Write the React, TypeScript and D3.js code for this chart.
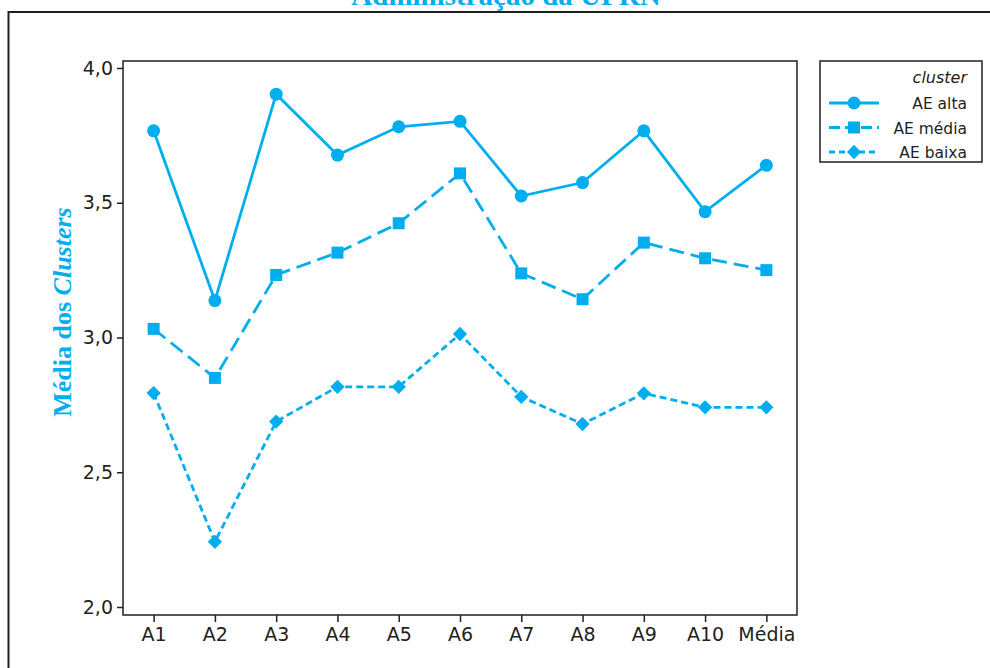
import { useEffect, useRef } from 'react';
import * as d3 from 'd3';

const categories = ['A1', 'A2', 'A3', 'A4', 'A5', 'A6', 'A7', 'A8', 'A9', 'A10', 'Média'];
const aeAlta = [3.767, 3.137, 3.903, 3.677, 3.782, 3.802, 3.525, 3.575, 3.767, 3.467, 3.639];
const aeMedia = [3.032, 2.85, 3.232, 3.315, 3.424, 3.609, 3.238, 3.142, 3.352, 3.294, 3.25];
const aeBaixa = [2.794, 2.242, 2.688, 2.817, 2.817, 3.013, 2.78, 2.679, 2.793, 2.741, 2.741];
const yTicks = [2.0, 2.5, 3.0, 3.5, 4.0];
const seriesNames = ['AE alta', 'AE média', 'AE baixa'];

const BLUE = '#00aeef';
const DARK = '#231f20';
const TICK_FONT = '"DejaVu Sans", sans-serif';

export default function App() {
  const svgRef = useRef<SVGSVGElement>(null);

  useEffect(() => {
    if (!svgRef.current) return;
    const W = 990, H = 668;
    const svg = d3.select(svgRef.current).attr('width', W).attr('height', H);
    svg.selectAll('*').remove();

    const left = 123, right = 797, top = 61, bottom = 615;

    const x = d3.scalePoint<string>().domain(categories).range([left, right]).padding(0.5);
    const y = d3.scaleLinear().domain([2.0, 4.0]).range([607, 68]);

    // 标题（上方被裁切）
    svg.append('text')
      .attr('x', 506).attr('y', 5)
      .attr('text-anchor', 'middle')
      .attr('font-family', '"Liberation Serif", serif')
      .attr('font-weight', 'bold')
      .attr('font-size', 29)
      .attr('fill', BLUE)
      .text('Administração da UFRN');

    // 外框
    svg.append('rect')
      .attr('x', 8.5).attr('y', 12)
      .attr('width', 1100).attr('height', 800)
      .attr('fill', 'none').attr('stroke', DARK).attr('stroke-width', 2);

    // 绘图区
    svg.append('rect')
      .attr('x', left).attr('y', top)
      .attr('width', right - left).attr('height', bottom - top)
      .attr('fill', 'none').attr('stroke', DARK).attr('stroke-width', 1.5);

    // Y 轴
    const yAxis = svg.append('g')
      .attr('transform', `translate(${left},0)`)
      .call(d3.axisLeft(y).tickValues(yTicks).tickSize(6).tickPadding(4)
        .tickFormat(d => (d as number).toFixed(1).replace('.', ',')));
    yAxis.select('.domain').remove();
    yAxis.selectAll('line').attr('stroke', DARK).attr('stroke-width', 1.5);
    yAxis.selectAll('text')
      .attr('font-family', TICK_FONT).attr('font-size', 19).attr('fill', DARK);

    // X 轴
    const xAxis = svg.append('g')
      .attr('transform', `translate(0,${bottom})`)
      .call(d3.axisBottom(x).tickSize(7).tickPadding(6));
    xAxis.select('.domain').remove();
    xAxis.selectAll('line').attr('stroke', DARK).attr('stroke-width', 1.5);
    xAxis.selectAll('text')
      .attr('font-family', TICK_FONT).attr('font-size', 19).attr('fill', DARK);

    // Y 轴标题
    const yt = svg.append('text')
      .attr('transform', 'translate(71,312) rotate(-90)')
      .attr('text-anchor', 'middle')
      .attr('font-family', '"Liberation Serif", serif')
      .attr('font-weight', 'bold')
      .attr('font-size', 26)
      .attr('fill', BLUE);
    yt.append('tspan').text('Média dos ');
    yt.append('tspan').attr('font-style', 'italic').text('Clusters');

    const dashes = [null, '15,7', '7,4'];
    const allSeries = [aeAlta, aeMedia, aeBaixa];

    const drawMarker = (gg: d3.Selection<SVGGElement, unknown, null, undefined>, kind: number, cx: number, cy: number) => {
      if (kind === 0) {
        gg.append('circle').attr('cx', cx).attr('cy', cy).attr('r', 6.5).attr('fill', BLUE);
      } else if (kind === 1) {
        gg.append('rect').attr('x', cx - 6).attr('y', cy - 6).attr('width', 12).attr('height', 12).attr('fill', BLUE);
      } else {
        gg.append('path')
          .attr('d', d3.symbol().type(d3.symbolDiamond2).size(130)()!)
          .attr('transform', `translate(${cx},${cy})`)
          .attr('fill', BLUE);
      }
    };

    const line = d3.line<number>()
      .x((_, i) => x(categories[i])!)
      .y(d => y(d));

    allSeries.forEach((vals, k) => {
      const g = svg.append('g');
      g.append('path')
        .datum(vals)
        .attr('d', line)
        .attr('fill', 'none')
        .attr('stroke', BLUE)
        .attr('stroke-width', 2.8)
        .attr('stroke-dasharray', dashes[k]);
      vals.forEach((v, i) => drawMarker(g, k, x(categories[i])!, y(v)));
    });

    // 图例
    const lg = svg.append('g');
    lg.append('rect')
      .attr('x', 820).attr('y', 61).attr('width', 162).attr('height', 101)
      .attr('fill', 'white').attr('stroke', DARK).attr('stroke-width', 1.5);
    lg.append('text')
      .attr('x', 967).attr('y', 83)
      .attr('text-anchor', 'end')
      .attr('font-family', TICK_FONT).attr('font-style', 'italic')
      .attr('font-size', 16).attr('fill', DARK)
      .text('cluster');
    seriesNames.forEach((name, k) => {
      const ly = 103 + k * 24.5;
      const g = lg.append('g');
      g.append('line')
        .attr('x1', 829).attr('x2', 879).attr('y1', ly).attr('y2', ly)
        .attr('stroke', BLUE).attr('stroke-width', 2.8)
        .attr('stroke-dasharray', k === 1 ? '11,5' : k === 2 ? '6,4' : null);
      drawMarker(g, k, 854, ly);
      g.append('text')
        .attr('x', 967).attr('y', ly + 6)
        .attr('text-anchor', 'end')
        .attr('font-family', TICK_FONT)
        .attr('font-size', 15.5).attr('fill', DARK)
        .text(name);
    });
  }, []);

  return (
    <div style={{ position: 'absolute', left: 0, top: 0, width: 990, height: 668, background: 'white', overflow: 'hidden' }}>
      <svg ref={svgRef} style={{ display: 'block' }} />
    </div>
  );
}
